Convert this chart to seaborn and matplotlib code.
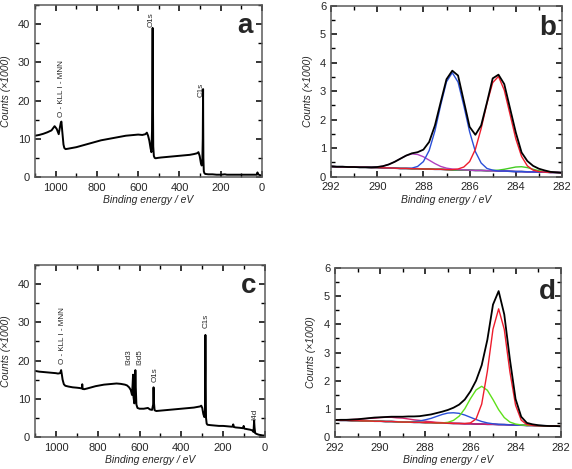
import numpy as np
import pandas as pd
import matplotlib
matplotlib.use("Agg")
import matplotlib.pyplot as plt
import seaborn as sns
from matplotlib.ticker import MultipleLocator

sns.set_style("ticks")
plt.rcParams['font.family'] = ['Liberation Sans', 'DejaVu Sans']

# ---------------- data ----------------
# Panel a: survey spectrum
a_be = [1100,1080,1060,1040,1020,1005,995,985,980,975,972,968,962,958,952,940,920,900,880,860,
        840,820,800,780,760,740,720,700,680,660,640,620,600,580,565,558,552,546,540,536,
        533,531,530,529,527,524,520,515,505,490,470,450,430,410,390,370,350,330,315,308,
        302,296,292,289,287,285.5,285,284,282,279,275,260,240,220,200,180,170,160,140,120,
        100,80,60,40,25,22,19,15,10,5,0]
a_counts = [10.8,11.0,11.3,11.7,12.2,13.3,12.6,11.2,12.8,14.2,14.5,12.0,8.5,7.6,7.3,7.4,7.6,7.8,8.1,8.4,
            8.7,9.0,9.3,9.6,9.8,10.0,10.2,10.4,10.6,10.8,10.9,11.0,11.1,11.0,11.2,11.6,10.8,9.5,7.5,6.5,
            12.0,30.0,39.0,25.0,8.0,5.5,5.0,4.9,5.0,5.1,5.2,5.3,5.4,5.5,5.6,5.7,5.8,6.0,6.2,6.5,
            5.5,3.6,3.0,4.5,10.0,23.0,15.0,5.0,1.5,1.0,0.8,0.7,0.7,0.6,0.6,0.7,0.6,0.6,0.6,0.6,
            0.6,0.6,0.6,0.6,0.6,1.2,0.7,0.6,0.5,0.4,0.3]
a_labels = ["O - KLL I - MNN", "O1s", "C1s"]
a_label_x = [971, 535, 293]
a_label_y = [15.8, 39.3, 21.0]

# Panel c: survey spectrum
c_be = [1100,1080,1060,1040,1020,1000,990,980,975,972,968,962,955,940,920,900,885,876,874,872,
        865,850,830,810,790,770,750,730,710,690,670,660,650,642,636,633,631,629,625,622,
        620,618,615,610,600,580,560,550,540,535,533,531,528,520,500,480,460,440,420,400,
        380,360,340,320,310,305,300,295,290,287,285.5,285,284,282,279,275,260,240,220,200,
        180,160,155,152,148,140,120,105,102,99,90,80,70,60,55,52,50,47,40,30,20,10,0]
c_counts = [17.3,17.1,17.0,16.9,16.8,16.7,16.6,16.7,17.5,16.5,15.0,13.8,13.4,13.2,13.0,12.9,12.8,12.7,13.8,12.6,
            12.5,12.7,13.0,13.3,13.5,13.7,13.8,13.9,14.0,13.9,13.7,13.5,13.0,12.3,11.0,14.0,16.3,10.5,8.8,12.0,
            17.5,13.0,8.5,7.6,7.4,7.4,7.6,7.2,7.1,8.5,13.0,9.0,7.0,6.8,6.9,7.0,7.1,7.2,7.3,7.4,
            7.5,7.6,7.7,7.9,8.0,8.2,7.6,6.0,5.2,7.0,18.0,26.7,14.0,5.0,3.5,3.2,3.1,3.0,2.9,2.9,
            2.8,2.7,2.7,3.3,2.6,2.5,2.4,2.3,2.9,2.2,2.1,2.0,1.9,1.7,1.3,4.3,2.5,1.0,0.8,0.6,0.5,0.4,0.4]
c_labels = ["O - KLL I - MNN", "I3d3", "I3d5", "O1s", "C1s", "I4d"]
c_label_x = [968, 652, 598, 526, 282, 47]
c_label_y = [19.1, 18.8, 18.8, 14.5, 28.5, 4.4]

# High-resolution C1s grid (binding energy, eV)
hr_be = [292.0,291.75,291.5,291.25,291.0,290.75,290.5,290.25,290.0,289.75,289.5,289.25,289.0,288.75,
         288.5,288.25,288.0,287.75,287.5,287.25,287.0,286.75,286.5,286.25,286.0,285.75,285.5,285.25,
         285.0,284.75,284.5,284.25,284.0,283.75,283.5,283.25,283.0,282.75,282.5,282.25,282.0]

# Panel b
b_data = [0.36,0.35,0.35,0.34,0.34,0.33,0.33,0.33,0.34,0.37,0.43,0.52,0.63,0.74,
          0.82,0.86,0.95,1.22,1.80,2.62,3.42,3.72,3.55,2.65,1.75,1.47,1.80,2.60,
          3.45,3.58,3.25,2.40,1.55,0.85,0.55,0.38,0.28,0.22,0.17,0.15,0.14]
b_background = [0.36,0.35,0.35,0.34,0.34,0.33,0.33,0.32,0.32,0.31,0.31,0.30,0.29,0.29,
                0.28,0.28,0.27,0.27,0.26,0.26,0.25,0.24,0.24,0.23,0.23,0.22,0.22,0.21,
                0.21,0.20,0.20,0.19,0.18,0.18,0.17,0.17,0.16,0.16,0.15,0.15,0.14]
b_magenta = [0.36,0.35,0.35,0.34,0.34,0.33,0.33,0.33,0.34,0.37,0.43,0.52,0.63,0.74,
             0.80,0.78,0.70,0.58,0.46,0.36,0.30,0.27,0.25,0.24,0.23,0.22,0.22,0.21,
             0.21,0.20,0.20,0.19,0.18,0.18,0.17,0.17,0.16,0.16,0.15,0.15,0.14]
b_blue = [0.36,0.35,0.35,0.34,0.34,0.33,0.33,0.32,0.32,0.31,0.31,0.30,0.29,0.29,
          0.30,0.36,0.53,0.92,1.61,2.52,3.33,3.65,3.32,2.49,1.58,0.88,0.48,0.29,
          0.23,0.20,0.20,0.19,0.18,0.18,0.17,0.17,0.16,0.16,0.15,0.15,0.14]
b_red = [0.36,0.35,0.35,0.34,0.34,0.33,0.33,0.32,0.32,0.31,0.31,0.30,0.29,0.29,
         0.28,0.28,0.27,0.27,0.26,0.26,0.25,0.25,0.27,0.34,0.53,0.96,1.69,2.57,
         3.30,3.52,3.04,2.19,1.33,0.71,0.38,0.23,0.18,0.16,0.15,0.15,0.14]
b_green = [0.36,0.35,0.35,0.34,0.34,0.33,0.33,0.32,0.32,0.31,0.31,0.30,0.29,0.29,
           0.28,0.28,0.27,0.27,0.26,0.26,0.25,0.24,0.24,0.23,0.23,0.22,0.22,0.21,
           0.22,0.23,0.26,0.30,0.34,0.35,0.32,0.26,0.21,0.18,0.16,0.15,0.14]

# Panel d
d_data = [0.60,0.61,0.61,0.62,0.63,0.65,0.67,0.69,0.70,0.71,0.72,0.72,0.72,0.73,
          0.73,0.74,0.77,0.80,0.85,0.90,0.96,1.04,1.15,1.33,1.62,2.00,2.55,3.45,
          4.70,5.18,4.35,2.75,1.35,0.72,0.50,0.45,0.42,0.40,0.39,0.39,0.38]
d_background = [0.60,0.59,0.59,0.58,0.58,0.57,0.57,0.56,0.56,0.55,0.55,0.54,0.53,0.53,
                0.52,0.52,0.51,0.51,0.50,0.50,0.49,0.48,0.48,0.47,0.47,0.46,0.46,0.45,
                0.45,0.44,0.44,0.43,0.42,0.42,0.41,0.41,0.40,0.40,0.39,0.39,0.38]
d_broad = [0.61,0.61,0.61,0.62,0.63,0.64,0.66,0.67,0.69,0.70,0.70,0.68,0.67,0.64,
           0.61,0.59,0.56,0.54,0.52,0.51,0.50,0.49,0.48,0.47,0.47,0.46,0.46,0.45,
           0.45,0.44,0.44,0.43,0.42,0.42,0.41,0.41,0.40,0.40,0.39,0.39,0.38]
d_blue = [0.60,0.59,0.59,0.58,0.58,0.57,0.57,0.56,0.56,0.55,0.55,0.54,0.54,0.54,
          0.55,0.57,0.61,0.66,0.73,0.80,0.85,0.86,0.84,0.78,0.70,0.62,0.55,0.50,
          0.47,0.45,0.44,0.43,0.42,0.42,0.41,0.41,0.40,0.40,0.39,0.39,0.38]
d_green = [0.60,0.59,0.59,0.58,0.58,0.57,0.57,0.56,0.56,0.55,0.55,0.54,0.53,0.53,
           0.52,0.52,0.51,0.51,0.50,0.50,0.52,0.59,0.74,1.00,1.36,1.67,1.80,1.66,
           1.33,0.97,0.69,0.53,0.46,0.43,0.41,0.41,0.40,0.40,0.39,0.39,0.38]
d_red = [0.60,0.59,0.59,0.58,0.58,0.57,0.57,0.56,0.56,0.55,0.55,0.54,0.53,0.53,
         0.52,0.52,0.51,0.51,0.50,0.50,0.49,0.48,0.48,0.48,0.50,0.64,1.17,2.33,
         3.83,4.55,3.82,2.31,1.13,0.60,0.44,0.41,0.40,0.40,0.39,0.39,0.38]

# ---------------- figure ----------------
W, H = 572, 469
fig = plt.figure(figsize=(W / 100, H / 100), dpi=100)

def px_axes(left, right, top, bottom):
    return fig.add_axes([left / W, (H - bottom) / H, (right - left) / W, (bottom - top) / H])

ax_a = px_axes(35, 262, 5, 177)
ax_b = px_axes(331, 562, 5.7, 176.7)
ax_c = px_axes(35, 265, 265, 437)
ax_d = px_axes(335, 560.7, 268, 437)

spine_col = "#5a5a5a"
tick_fs = 8
lab_fs = 7.5

def style(ax, xlim, ylim, xmaj, xmin, ymaj, ymin, letter, lx, ly, ylabelpad):
    ax.set_xlim(*xlim)
    ax.set_ylim(*ylim)
    ax.xaxis.set_major_locator(MultipleLocator(xmaj))
    ax.xaxis.set_minor_locator(MultipleLocator(xmin))
    ax.yaxis.set_major_locator(MultipleLocator(ymaj))
    ax.yaxis.set_minor_locator(MultipleLocator(ymin))
    for s in ax.spines.values():
        s.set_visible(True)
        s.set_color(spine_col)
        s.set_linewidth(1.1)
    ax.tick_params(which="both", direction="in", top=True, right=True, bottom=True, left=True,
                   color="black", labelsize=tick_fs)
    ax.tick_params(axis="x", which="major", pad=4.0)
    ax.tick_params(axis="y", which="major", pad=3.5)
    ax.tick_params(which="major", length=4.5, width=1.1)
    ax.tick_params(which="minor", length=2.8, width=1.0)
    ax.set_xlabel("Binding energy / eV", fontsize=lab_fs, style="italic", labelpad=2)
    ax.set_ylabel("Counts (\u00d71000)", fontsize=lab_fs, style="italic", labelpad=ylabelpad)
    ax.text(lx, ly, letter, transform=ax.transAxes, fontsize=20, fontweight="bold",
            ha="center", va="center")

# survey a
sns.lineplot(x=a_be, y=a_counts, ax=ax_a, color="black", lw=1.4, estimator=None, sort=False)
for t, x, y in zip(a_labels, a_label_x, a_label_y):
    ax_a.text(x, y, t, rotation=90, ha="center", va="bottom", fontsize=5.8)
style(ax_a, (1100, 0), (0, 45), 200, 100, 10, 5, "a", 0.925, 0.88, 5)

# survey c
sns.lineplot(x=c_be, y=c_counts, ax=ax_c, color="black", lw=1.4, estimator=None, sort=False)
for t, x, y in zip(c_labels, c_label_x, c_label_y):
    ax_c.text(x, y, t, rotation=90, ha="center", va="bottom", fontsize=5.8)
style(ax_c, (1100, 0), (0, 45), 200, 100, 10, 5, "c", 0.93, 0.88, 5)

# high-res b
sns.lineplot(x=hr_be, y=b_background, ax=ax_b, color="#1c1c70", lw=1.2, estimator=None, sort=False)
sns.lineplot(x=hr_be, y=b_green, ax=ax_b, color="#44cc22", lw=1.0, estimator=None, sort=False)
sns.lineplot(x=hr_be, y=b_magenta, ax=ax_b, color="#b040c0", lw=1.0, estimator=None, sort=False)
sns.lineplot(x=hr_be, y=b_blue, ax=ax_b, color="#2a4fd8", lw=1.0, estimator=None, sort=False)
sns.lineplot(x=hr_be, y=b_red, ax=ax_b, color="#ee1c2c", lw=1.0, estimator=None, sort=False)
sns.lineplot(x=hr_be, y=b_data, ax=ax_b, color="black", lw=1.3, estimator=None, sort=False)
style(ax_b, (292, 282), (0, 6), 2, 1, 1, 0.5, "b", 0.94, 0.87, 5)

# high-res d
sns.lineplot(x=hr_be, y=d_background, ax=ax_d, color="#1c1c90", lw=1.2, estimator=None, sort=False)
sns.lineplot(x=hr_be, y=d_broad, ax=ax_d, color="#d8206a", lw=1.0, estimator=None, sort=False)
sns.lineplot(x=hr_be, y=d_blue, ax=ax_d, color="#2a4fd8", lw=1.0, estimator=None, sort=False)
sns.lineplot(x=hr_be, y=d_green, ax=ax_d, color="#5ee01a", lw=1.0, estimator=None, sort=False)
sns.lineplot(x=hr_be, y=d_red, ax=ax_d, color="#ee1c2c", lw=1.0, estimator=None, sort=False)
sns.lineplot(x=hr_be, y=d_data, ax=ax_d, color="black", lw=1.3, estimator=None, sort=False)
style(ax_d, (292, 282), (0, 6), 2, 1, 1, 0.5, "d", 0.94, 0.86, 6)

fig.savefig("out.png", dpi=100)
